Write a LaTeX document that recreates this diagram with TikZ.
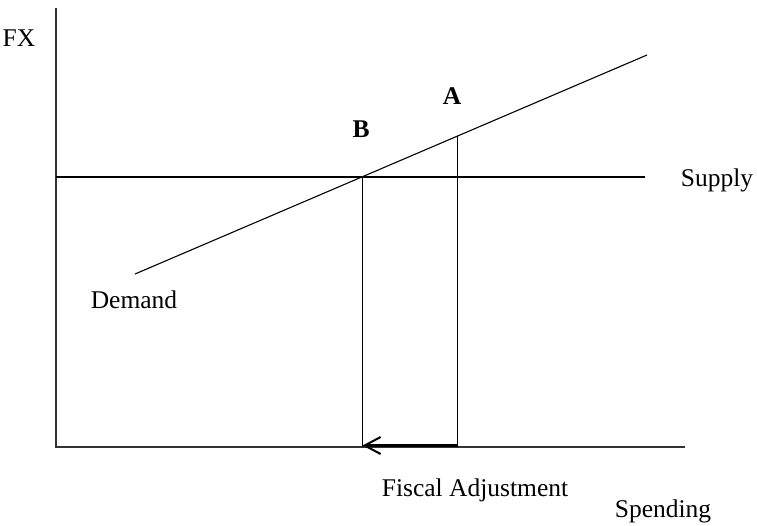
\documentclass[tikz,border=0pt]{standalone}
\usepackage{fontspec}
\setmainfont{Liberation Serif}
\usetikzlibrary{arrows.meta,calc}
\begin{document}
\begin{tikzpicture}[x=1pt,y=-1pt,
  axe/.style={line width=1.2pt,black!80},
  courbe/.style={line width=1.1pt},
  guide/.style={line width=1.1pt},
  lab/.style={font=\fontsize{25.5}{28}\selectfont,inner sep=0pt},
  pt/.style={font=\fontsize{25.5}{28}\selectfont\bfseries,inner sep=0pt},
  fl/.style={-{Straight Barb[length=16pt,width=17pt,line width=2pt]},line width=2.2pt}]
  \useasboundingbox (0,0) rectangle (757,525);
  % ---- axes
  \coordinate (o) at (56,447);
  \coordinate (ytop) at (56,8);
  \coordinate (xend) at (685,447);
  \draw[axe] (ytop) -- (o) -- (xend);
  % ---- offre et demande
  \coordinate (s0) at (56,177);
  \coordinate (s1) at (645,177);
  \coordinate (d0) at (135,274);
  \coordinate (d1) at (647,55);
  \draw[courbe] (s0) -- (s1);
  \draw[courbe] (d0) -- (d1);
  % ---- points A et B
  \coordinate (b) at (362.5,177);
  \coordinate (a) at (457.7,136);
  \draw[guide] (b) -- (b |- o);
  \draw[guide] (a) -- (a |- o);
  \draw[fl] ([yshift=1.5pt]a |- o) -- ([yshift=1.5pt]b |- o);
  % ---- textes
  \node[lab] (fx) at (19,38) {FX};
  \node[pt] (la) at (452,96) {A};
  \node[pt] (lb) at (361,129) {B};
  \node[lab] (sup) at (717,180) {Supply};
  \node[lab] (dem) at (134,300) {Demand};
  \node[lab] (fisc) at (475,490) {Fiscal Adjustment};
  \node[lab] (spend) at (663,511) {Spending};
\end{tikzpicture}
\end{document}
